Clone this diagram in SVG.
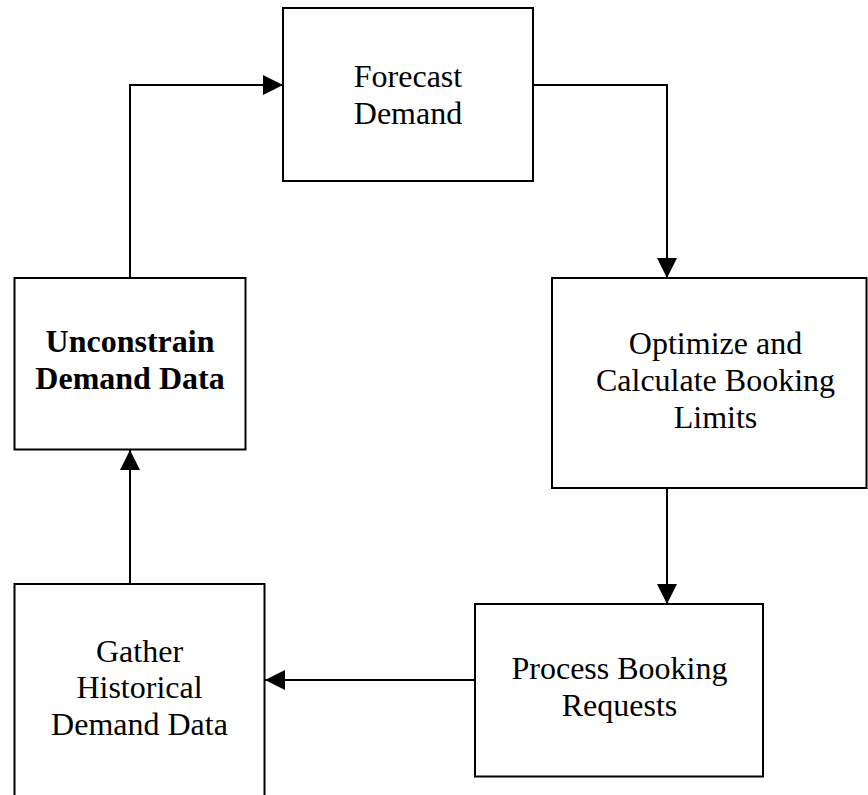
<svg xmlns="http://www.w3.org/2000/svg" width="868" height="795" viewBox="0 0 868 795">
  <style>
    .box { fill: #ffffff; stroke: #000000; stroke-width: 2; }
    .label { font-family: "Liberation Serif", "Times New Roman", serif; font-size: 32px; fill: #000000; text-anchor: middle; }
    .bold { font-weight: bold; }
    .edge { fill: none; stroke: #000000; stroke-width: 2; marker-end: url(#arrow); }
  </style>
  <defs>
    <marker id="arrow" markerUnits="userSpaceOnUse" markerWidth="20" markerHeight="20" viewBox="0 0 20 20" refX="20" refY="10" orient="auto">
      <path d="M0,0 L20,10 L0,20 z" fill="#000000"/>
    </marker>
  </defs>
  <rect width="868" height="795" fill="#ffffff"/>

  <!-- connectors -->
  <g id="connectors">
    <path class="edge" d="M130,278 V85 H283"/>
    <path class="edge" d="M533,85 H667 V278"/>
    <path class="edge" d="M667,488 V604"/>
    <path class="edge" d="M475,680 H265"/>
    <path class="edge" d="M130,584 V450"/>
  </g>

  <g id="forecast">
    <rect class="box" x="283" y="8" width="250" height="173"/>
    <text class="label" x="408" y="87">Forecast</text>
    <text class="label" x="408" y="124">Demand</text>
  </g>

  <g id="unconstrain">
    <rect class="box" x="14.5" y="278" width="231" height="171.5"/>
    <text class="label bold" x="130" y="352">Unconstrain</text>
    <text class="label bold" x="130" y="389">Demand Data</text>
  </g>

  <g id="optimize">
    <rect class="box" x="552" y="278" width="314.5" height="210"/>
    <text class="label" x="715.5" y="354">Optimize and</text>
    <text class="label" x="715.5" y="391">Calculate Booking</text>
    <text class="label" x="715.5" y="428">Limits</text>
  </g>

  <g id="process">
    <rect class="box" x="475" y="604" width="288" height="172.5"/>
    <text class="label" x="619.5" y="679">Process Booking</text>
    <text class="label" x="619.5" y="716">Requests</text>
  </g>

  <g id="gather">
    <rect class="box" x="14.5" y="584" width="250" height="230"/>
    <text class="label" x="139.5" y="662">Gather</text>
    <text class="label" x="139.5" y="698">Historical</text>
    <text class="label" x="139.5" y="735">Demand Data</text>
  </g>
</svg>
